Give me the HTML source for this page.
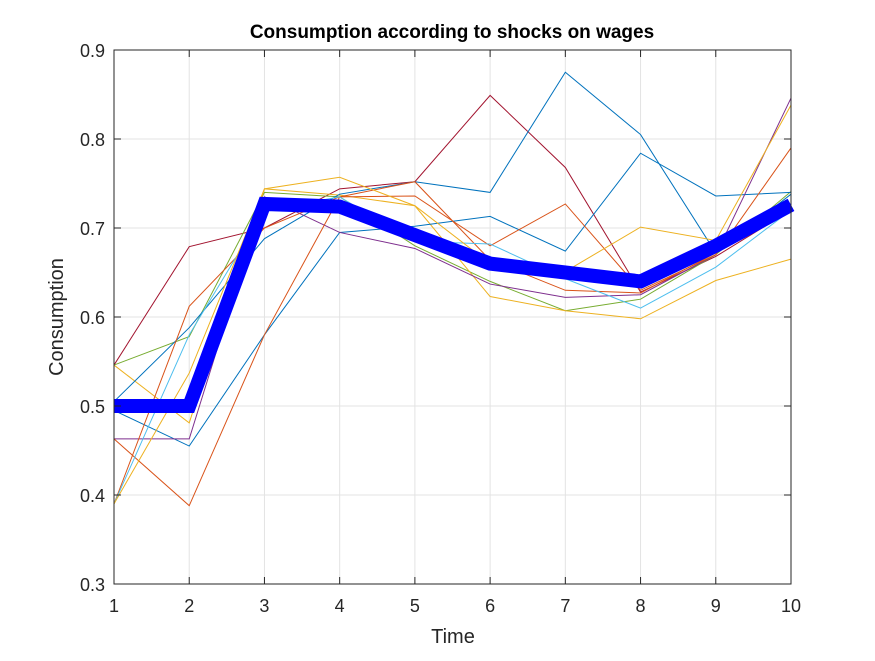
<!DOCTYPE html>
<html><head><meta charset="utf-8"><style>
body{margin:0;background:#fff}
svg text{font-family:"Liberation Sans",Arial,sans-serif;fill:#262626}
</style></head><body>
<svg id="c" width="875" height="656" xmlns="http://www.w3.org/2000/svg">
<rect width="875" height="656" fill="#fff"/>
<g id="grid"></g><g id="lines"></g><g id="axes"></g>
<text x="452" y="38" text-anchor="middle" font-size="19" font-weight="bold" style="fill:#000">Consumption according to shocks on wages</text>
<text x="453" y="643" text-anchor="middle" font-size="20">Time</text>
<text transform="translate(63,317) rotate(-90)" text-anchor="middle" font-size="20">Consumption</text>
</svg>
<script>
const xTicks=[1,2,3,4,5,6,7,8,9,10];
const yTicks=[0.3,0.4,0.5,0.6,0.7,0.8,0.9];
const yTickLabels=["0.3","0.4","0.5","0.6","0.7","0.8","0.9"];
const s1=[0.546,0.679,0.700,0.744,0.752,0.849,0.768,0.628,0.668,0.720];
const s2=[0.546,0.578,0.740,0.735,0.680,0.640,0.607,0.620,0.670,0.741];
const s3=[0.546,0.481,0.744,0.737,0.725,0.623,0.607,0.598,0.641,0.665];
const s4=[0.505,0.588,0.688,0.738,0.752,0.740,0.875,0.805,0.672,0.738];
const s5=[0.495,0.455,0.580,0.695,0.702,0.713,0.674,0.784,0.736,0.740];
const s6=[0.463,0.463,0.735,0.695,0.677,0.637,0.622,0.625,0.670,0.846];
const s7=[0.463,0.388,0.580,0.735,0.736,0.680,0.727,0.630,0.670,0.790];
const s8=[0.390,0.612,0.700,0.735,0.752,0.664,0.630,0.627,0.672,0.725];
const s9=[0.390,0.580,0.720,0.735,0.685,0.682,0.643,0.610,0.656,0.720];
const s10=[0.390,0.537,0.744,0.757,0.725,0.660,0.651,0.701,0.686,0.838];
const meanSeries=[0.500,0.500,0.727,0.724,0.692,0.660,0.650,0.640,0.680,0.726];
const seriesList=[s1,s2,s3,s4,s5,s6,s7,s8,s9,s10];
const colors=["#A2142F","#77AC30","#EDB120","#0072BD","#0072BD","#7E2F8E","#D95319","#D95319","#4DBEEE","#EDB120"];
const L=114,R=791,T=50,B=584;
const xs=v=>L+(v-1)/9*(R-L);
const ys=v=>B-(v-0.3)/0.6*(B-T);
const NS="http://www.w3.org/2000/svg";
function mk(tag,parent,attrs){const e=document.createElementNS(NS,tag);for(const k in attrs)e.setAttribute(k,attrs[k]);parent.appendChild(e);return e;}
const g=document.getElementById('grid'),ln=document.getElementById('lines'),ax=document.getElementById('axes');
xTicks.forEach(t=>{const e=mk('line',g,{x1:xs(t),x2:xs(t),y1:T,y2:B,stroke:'#e3e3e3','stroke-width':1});

});
yTicks.forEach(t=>{const e=mk('line',g,{x1:L,x2:R,y1:ys(t),y2:ys(t),stroke:'#e3e3e3','stroke-width':1});

});
seriesList.forEach((s,i)=>{const p=mk('polyline',ln,{points:s.map((v,j)=>xs(xTicks[j])+','+ys(v)).join(' '),fill:'none',stroke:colors[i],'stroke-width':1});

});
const m=mk('polyline',ln,{points:meanSeries.map((v,j)=>xs(xTicks[j])+','+ys(v)).join(' '),fill:'none',stroke:'#0000ff','stroke-width':14,'stroke-linejoin':'miter'});


const box=mk('rect',ax,{x:L,y:T,width:R-L,height:B-T,fill:'none',stroke:'#262626','stroke-width':1});


xTicks.forEach(t=>{mk('line',ax,{x1:xs(t),x2:xs(t),y1:B,y2:B-7,stroke:'#262626'});mk('line',ax,{x1:xs(t),x2:xs(t),y1:T,y2:T+7,stroke:'#262626'});
const e=mk('text',ax,{x:xs(t),y:B+28,'text-anchor':'middle','font-size':18});e.textContent=t;

});
yTicks.forEach((t,i)=>{mk('line',ax,{x1:L,x2:L+7,y1:ys(t),y2:ys(t),stroke:'#262626'});mk('line',ax,{x1:R,x2:R-7,y1:ys(t),y2:ys(t),stroke:'#262626'});
const e=mk('text',ax,{x:L-9,y:ys(t)+7,'text-anchor':'end','font-size':18});e.textContent=yTickLabels[i];

});
</script>
</body></html>
